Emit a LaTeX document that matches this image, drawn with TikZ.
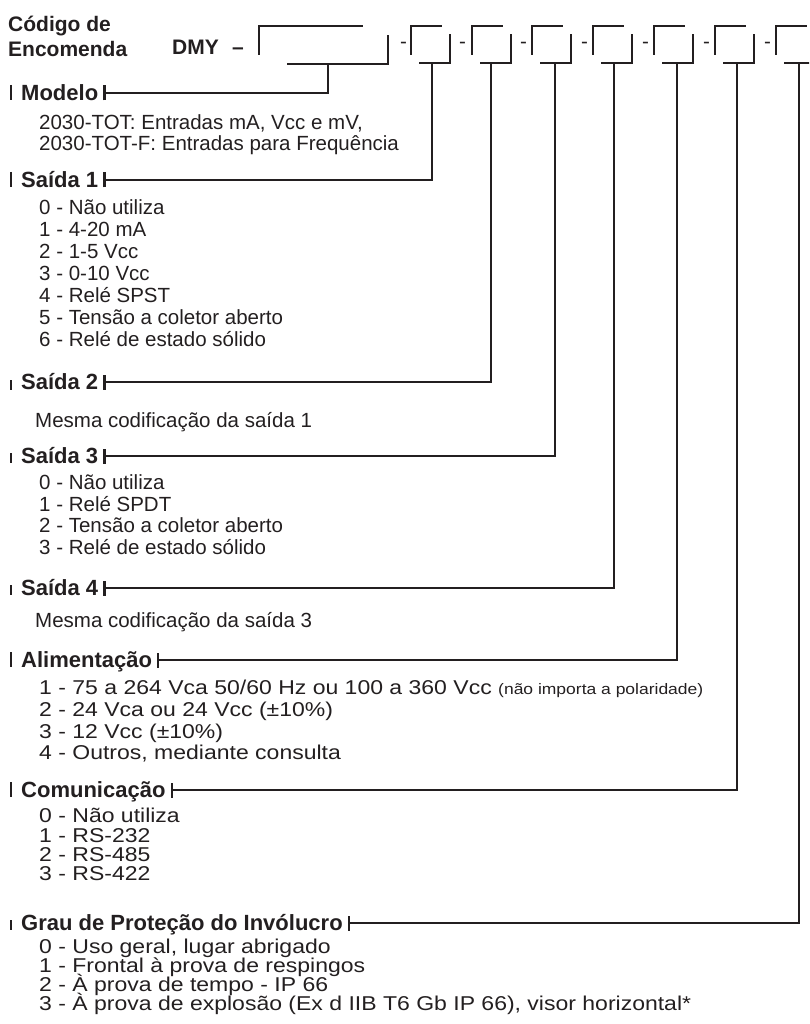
\documentclass[tikz,border=0pt]{standalone}
\usepackage{fontspec}
\setmainfont{Liberation Sans}
\newfontfamily\widefont{Liberation Sans}[FakeStretch=1.15]
\usetikzlibrary{arrows.meta}
\definecolor{ink}{RGB}{35,31,32}

\begin{document}
\begin{tikzpicture}[x=1pt,y=-1pt,color=ink,
  title/.style={anchor=base west,inner sep=0pt,font=\bfseries\fontsize{21}{24}\selectfont},
  head/.style={anchor=west,inner sep=0pt,text height=15.7pt,text depth=0pt,font=\bfseries\fontsize{22}{26}\selectfont},
  item/.style={anchor=west,inner sep=0pt,text height=14.7pt,text depth=0pt,font=\fontsize{20.5}{24}\selectfont},
  wideitem/.style={anchor=west,inner sep=0pt,text height=14.3pt,text depth=0pt,font=\widefont\fontsize{20}{24}\selectfont},
  hyph/.style={anchor=base west,inner sep=0pt,font=\fontsize{20.5}{24}\selectfont},
  box/.style={line width=2.2pt},
  conn/.style={line width=2.2pt,{Bar[width=15pt]}-},
  tick/.style={line width=2.2pt}]
  \useasboundingbox (0,0) rectangle (809,1024);
  \clip (0,0) rectangle (809,1024);
  % order code
  \node[title] (cod) at (8,32) {Código de};
  \node[title] (enc) at (8,57) {Encomenda};
  \node[title] (dmy) at (172,55) {DMY};
  \node[title] (trc) at (232,55) {–};
  \draw[box] (259,55) |- (363,26);
  \draw[box] (287,64) -| (388,35);
  \coordinate (b0) at (328,64);
  \node[hyph] (d1) at (400,49) {-};
  \draw[box] (411,55) |- (442,26);
  \draw[box] (419,63) -| (450,34);
  \coordinate (b1) at (432,63);
  \node[hyph] (d2) at (459,49) {-};
  \draw[box] (472,55) |- (503,26);
  \draw[box] (480,63) -| (511,34);
  \coordinate (b2) at (491,63);
  \node[hyph] (d3) at (520,49) {-};
  \draw[box] (532,55) |- (563,26);
  \draw[box] (540,63) -| (571,34);
  \coordinate (b3) at (555,63);
  \node[hyph] (d4) at (581,49) {-};
  \draw[box] (593,55) |- (624,26);
  \draw[box] (601,63) -| (632,34);
  \coordinate (b4) at (614,63);
  \node[hyph] (d5) at (642,49) {-};
  \draw[box] (654,55) |- (685,26);
  \draw[box] (662,63) -| (693,34);
  \coordinate (b5) at (677,63);
  \node[hyph] (d6) at (703,49) {-};
  \draw[box] (715,55) |- (746,26);
  \draw[box] (723,63) -| (754,34);
  \coordinate (b6) at (737,63);
  \node[hyph] (d7) at (764,49) {-};
  \draw[box] (776,55) |- (807,26);
  \draw[box] (784,63) -| (815,34);
  \coordinate (b7) at (799,63);

  % Modelo
  \node[head] (modelo) at (21,93) {Modelo};
  \draw[tick] ([xshift=-10pt,yshift=8pt]modelo.west) -- ([xshift=-10pt,yshift=-7pt]modelo.west);
  \draw[conn] ([xshift=5pt]modelo.east) -| (b0);
  \node[item] (m1) at (39,122) {2030-TOT: Entradas mA, Vcc e mV,};
  \node[item] (m2) at (39,143) {2030-TOT-F: Entradas para Frequência};

  % Saida 1
  \node[head] (s1) at (21,180) {Saída 1};
  \draw[tick] ([xshift=-10pt,yshift=8pt]s1.west) -- ([xshift=-10pt,yshift=-7pt]s1.west);
  \draw[conn] ([xshift=5pt]s1.east) -| (b1);
  \node[item] (s1a) at (39,207) {0 - Não utiliza};
  \node[item] (s1b) at (39,229) {1 - 4-20 mA};
  \node[item] (s1c) at (39,251) {2 - 1-5 Vcc};
  \node[item] (s1d) at (39,273) {3 - 0-10 Vcc};
  \node[item] (s1e) at (39,295) {4 - Relé SPST};
  \node[item] (s1f) at (39,317) {5 - Tensão a coletor aberto};
  \node[item] (s1g) at (39,339) {6 - Relé de estado sólido};

  % Saida 2
  \node[head] (s2) at (21,382) {Saída 2};
  \draw[tick] ([xshift=-10pt,yshift=2pt]s2.west) -- ([xshift=-10pt,yshift=-8pt]s2.west);
  \draw[conn] ([xshift=5pt]s2.east) -| (b2);
  \node[item] (s2a) at (35,420) {Mesma codificação da saída 1};

  % Saida 3
  \node[head] (s3) at (21,456) {Saída 3};
  \draw[tick] ([xshift=-10pt,yshift=3pt]s3.west) -- ([xshift=-10pt,yshift=-7pt]s3.west);
  \draw[conn] ([xshift=5pt]s3.east) -| (b3);
  \node[item] (s3a) at (39,482) {0 - Não utiliza};
  \node[item] (s3b) at (39,504) {1 - Relé SPDT};
  \node[item] (s3c) at (39,525) {2 - Tensão a coletor aberto};
  \node[item] (s3d) at (39,547) {3 - Relé de estado sólido};

  % Saida 4
  \node[head] (s4) at (21,588) {Saída 4};
  \draw[tick] ([xshift=-10pt,yshift=3pt]s4.west) -- ([xshift=-10pt,yshift=-7pt]s4.west);
  \draw[conn] ([xshift=5pt]s4.east) -| (b4);
  \node[item] (s4a) at (35,620) {Mesma codificação da saída 3};

  % Alimentacao
  \node[head] (alim) at (21,660) {Alimentação};
  \draw[tick] ([xshift=-10pt,yshift=8pt]alim.west) -- ([xshift=-10pt,yshift=-7pt]alim.west);
  \draw[conn] ([xshift=5pt]alim.east) -| (b5);
  \node[wideitem] (al1) at (39,687) {1 - 75 a 264 Vca 50/60 Hz ou 100 a 360 Vcc {\fontsize{15.2}{18}\selectfont(não importa a polaridade)}};
  \node[wideitem] (al2) at (39,709) {2 - 24 Vca ou 24 Vcc (±10\%)};
  \node[wideitem] (al3) at (39,731) {3 - 12 Vcc (±10\%)};
  \node[wideitem] (al4) at (39,752) {4 - Outros, mediante consulta};

  % Comunicacao
  \node[head] (com) at (21,790) {Comunicação};
  \draw[tick] ([xshift=-10pt,yshift=8pt]com.west) -- ([xshift=-10pt,yshift=-7pt]com.west);
  \draw[conn] ([xshift=5pt]com.east) -| (b6);
  \node[wideitem] (co0) at (39,815) {0 - Não utiliza};
  \node[wideitem] (co1) at (39,835) {1 - RS-232};
  \node[wideitem] (co2) at (39,854) {2 - RS-485};
  \node[wideitem] (co3) at (39,873) {3 - RS-422};

  % Grau de protecao
  \node[head] (grau) at (21,923) {Grau de Proteção do Invólucro};
  \draw[tick] ([xshift=-10pt,yshift=3pt]grau.west) -- ([xshift=-10pt,yshift=-7pt]grau.west);
  \draw[conn] ([xshift=5pt]grau.east) -| (b7);
  \node[wideitem] (gr0) at (39,946) {0 - Uso geral, lugar abrigado};
  \node[wideitem] (gr1) at (39,965) {1 - Frontal à prova de respingos};
  \node[wideitem] (gr2) at (39,984) {2 - À prova de tempo - IP 66};
  \node[wideitem] (gr3) at (39,1003) {3 - À prova de explosão (Ex d IIB T6 Gb IP 66), visor horizontal*};
\end{tikzpicture}
\end{document}
